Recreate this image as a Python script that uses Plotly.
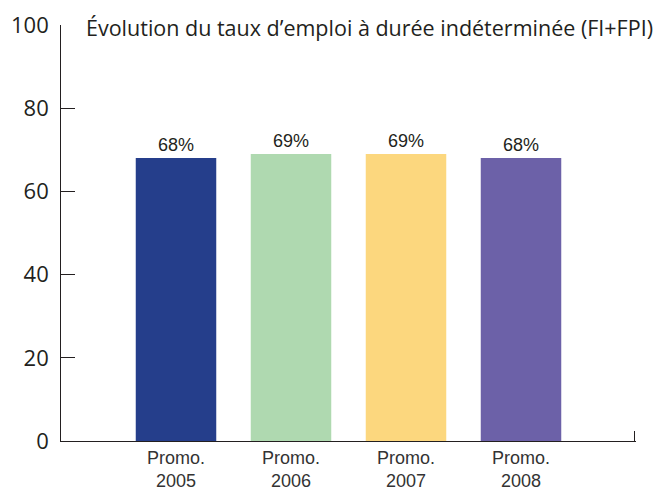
import plotly.graph_objects as go

categories = ["Promo.<br>2005", "Promo.<br>2006", "Promo.<br>2007", "Promo.<br>2008"]
values = [68, 69, 69, 68]
bar_colors = ["#253e8b", "#afd9b0", "#fcd77e", "#6c61a8"]
y_ticks = [0, 20, 40, 60, 80, 100]
title_text = "Évolution du taux d’emploi à durée indéterminée (FI+FPI)"

positions = list(range(len(categories)))
axis_col = "#231f20"

# y tick labels with an invisible spacer on the right (pushes digits away from the axis)
pad = "<span style='font-size:12px;color:rgba(0,0,0,0)'>0</span>"
y_ticktext = [f"{v}{pad}" for v in y_ticks]

# x ticks drawn below the bars: only the one at the right end (no bar) stays visible
x_tickvals = positions + [len(categories) - 0.01]
x_ticktext = categories + [""]

fig = go.Figure()
fig.add_trace(go.Bar(
    x=positions, y=values, width=0.70,
    marker=dict(color=bar_colors, line=dict(width=0)),
    text=[f"{v}%" for v in values], textposition="outside",
    textfont=dict(family="Liberation Sans, Arial", size=18, color="#231f20"),
    cliponaxis=False, showlegend=False, hoverinfo="skip",
))

fig.update_layout(
    width=658, height=490,
    margin=dict(l=61, r=22, t=25, b=49, autoexpand=False),
    paper_bgcolor="white", plot_bgcolor="white",
    xaxis=dict(range=[-1, 4], tickmode="array", tickvals=x_tickvals, ticktext=x_ticktext,
               showline=True, linecolor=axis_col, linewidth=1,
               ticks="inside", ticklen=10, tickcolor=axis_col, tickwidth=1,
               layer="below traces",
               showgrid=False, zeroline=False, automargin=False,
               tickfont=dict(family="Liberation Sans, Arial", size=18, color="#333333")),
    yaxis=dict(range=[0, 100], tickmode="array", tickvals=y_ticks, ticktext=y_ticktext,
               ticks="inside", ticklen=14,
               tickcolor=axis_col, tickwidth=1, showline=True, linecolor=axis_col, linewidth=1,
               showgrid=False, zeroline=False, automargin=False,
               tickfont=dict(family="Open Sans", size=22, color="#231f20")),
    annotations=[dict(text=title_text, xref="paper", yref="paper", x=(84-61)/575,
                      y=1, yshift=-2, xanchor="left", yanchor="middle", showarrow=False,
                      font=dict(family="Open Sans", size=21.5, color="#231f20"))],
)

fig.write_html("out.html", config={"displayModeBar": False},
               post_script="document.body.style.margin='0';document.body.style.overflow='hidden';")
